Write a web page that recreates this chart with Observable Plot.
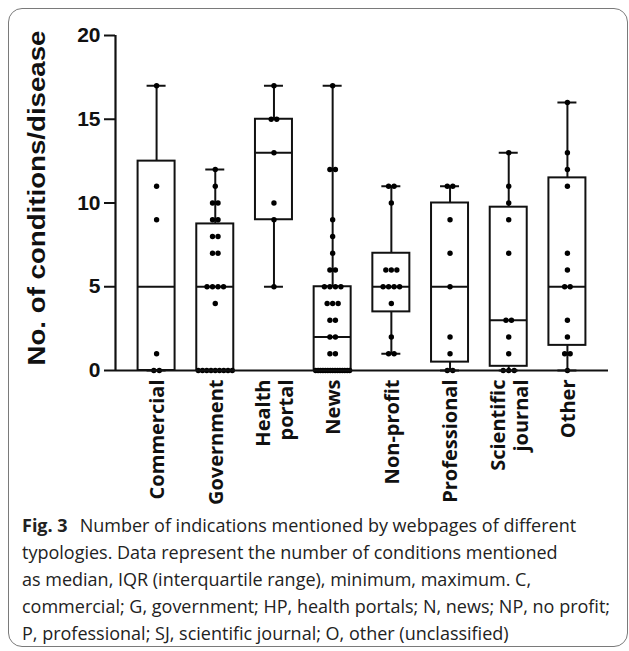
<!DOCTYPE html>
<html><head><meta charset="utf-8">
<script src="https://cdn.jsdelivr.net/npm/d3@7"></script>
<script src="https://cdn.jsdelivr.net/npm/@observablehq/plot@0.6"></script>
<style>
html,body{margin:0;padding:0;background:#fff;width:629px;height:651px;overflow:hidden;position:relative}
#frame{position:absolute;left:8px;top:8px;width:620px;height:639px;border:1.5px solid #7a7a7a;border-radius:14px;box-sizing:border-box}
#chart{position:absolute;left:0;top:0}
#caption{position:absolute;left:22px;top:512px;font-family:"Open Sans";font-size:18px;line-height:27px;color:#222;white-space:nowrap}
#caption b{font-weight:bold;margin-right:12px}
</style></head><body>
<div id="frame"></div>
<div id="chart"></div>
<div id="caption"></div>
<script>
const categories = ["Commercial","Government","Health\nportal","News","Non-profit","Professional","Scientific\njournal","Other"];
const commercial = [0,0,1,9,11,17];
const government = [0,0,0,0,0,0,0,0,0,4,5,5,5,5,7,7,8,8,9,9,10,10,11,12];
const healthPortal = [5,9,10,13,15,15,17];
const news = [0,0,0,0,0,0,0,0,0,0,0,0,0,0,0,1,1,2,2,3,3,4,4,4,5,5,5,5,6,6,7,8,9,12,12,17];
const nonProfit = [1,1,2,4,5,5,5,5,6,6,6,10,11,11];
const professional = [0,0,1,2,5,7,9,11,11];
const scientificJournal = [0,0,0,1,2,3,3,7,9,10,11,13];
const other = [0,1,1,2,3,5,5,6,7,11,12,13,16];
const yTicks = [0,5,10,15,20];
const yLabel = "No. of conditions/disease";
const captionTitle = "Fig. 3";
const captionLines = [
  "Number of indications mentioned by webpages of different",
  "typologies. Data represent the number of conditions mentioned",
  "as median, IQR (interquartile range), minimum, maximum. C,",
  "commercial; G, government; HP, health portals; N, news; NP, no profit;",
  "P, professional; SJ, scientific journal; O, other (unclassified)"
];

const series = [commercial, government, healthPortal, news, nonProfit, professional, scientificJournal, other];

// quartiles with the (n+1)p method
function quant(s, p) {
  const n = s.length, pos = p * (n + 1);
  if (pos <= 1) return s[0];
  if (pos >= n) return s[n - 1];
  const i = Math.floor(pos);
  return s[i - 1] + (pos - i) * (s[i] - s[i - 1]);
}
const stats = series.map((v, i) => {
  const s = [...v].sort((a, b) => a - b);
  return {i, min: s[0], q1: quant(s, .25), med: quant(s, .5), q3: quant(s, .75), max: s[s.length - 1]};
});

const X0 = -0.7, X1 = 7.7;
const W = 629, ML = 115, MR = 21;
const pxPerUnit = (W - ML - MR) / (X1 - X0);
const BW = 18.5 / pxPerUnit, CW = 9.5 / pxPerUnit;
const points = [];
series.forEach((v, i) => {
  const groups = d3.group(v, d => d);
  for (const [val, arr] of groups) {
    const k = arr.length;
    const sp = k > 1 ? Math.min(5.5, 34 / (k - 1)) / pxPerUnit : 0;
    arr.forEach((_, j) => points.push({x: i + (j - (k - 1) / 2) * sp, y: val}));
  }
});

const chart = Plot.plot({
  width: W, height: 505,
  marginLeft: ML, marginRight: MR, marginTop: 35, marginBottom: 135,
  style: {color: "#111", background: "transparent"},
  x: {domain: [X0, X1]},
  y: {domain: [0, 20]},
  marks: [
    Plot.ruleX(stats, {x: "i", y1: "q3", y2: "max", stroke: "#111", strokeWidth: 2}),
    Plot.ruleX(stats, {x: "i", y1: "min", y2: "q1", stroke: "#111", strokeWidth: 2}),
    Plot.ruleY(stats, {x1: d => d.i - CW, x2: d => d.i + CW, y: "max", stroke: "#111", strokeWidth: 2}),
    Plot.ruleY(stats, {x1: d => d.i - CW, x2: d => d.i + CW, y: "min", stroke: "#111", strokeWidth: 2}),
    Plot.rect(stats, {x1: d => d.i - BW, x2: d => d.i + BW, y1: "q1", y2: "q3", fill: "white", stroke: "#111", strokeWidth: 2}),
    Plot.ruleY(stats, {x1: d => d.i - BW, x2: d => d.i + BW, y: "med", stroke: "#111", strokeWidth: 2}),
    Plot.dot(points, {x: "x", y: "y", r: 2.7, fill: "#000"}),
    Plot.ruleY([0], {stroke: "#111", strokeWidth: 2.2}),
    Plot.ruleX([X0], {y1: 0, y2: 20, stroke: "#111", strokeWidth: 2.2}),
    Plot.axisY(yTicks, {tickSize: 11, tickPadding: 4, fontSize: 21, fontWeight: "bold", fontFamily: "Liberation Sans", strokeWidth: 2, label: null}),
    Plot.axisX(d3.range(categories.length), {tickSize: 0, tickPadding: 9, tickRotate: -90, tickFormat: i => categories[i], fontSize: 20, fontWeight: "bold", fontFamily: "Open Sans", label: null, lineHeight: 1.15}),
    Plot.text([yLabel], {text: d => d, frameAnchor: "bottom-left", textAnchor: "start", dx: -71, dy: -5, rotate: -90, fontSize: 24, fontWeight: "bold", fontFamily: "Liberation Sans", fill: "#111"})
  ]
});
document.getElementById("chart").appendChild(chart);
chart.querySelectorAll("text").forEach(t => {
  if (t.textContent === yLabel) { t.setAttribute("textLength", 335); t.setAttribute("lengthAdjust", "spacingAndGlyphs"); }
});

const cap = document.getElementById("caption");
cap.innerHTML = captionLines.map((l, k) => (k === 0 ? "<b>" + captionTitle + "</b>" : "") + l).join("<br>");
</script>
</body></html>
